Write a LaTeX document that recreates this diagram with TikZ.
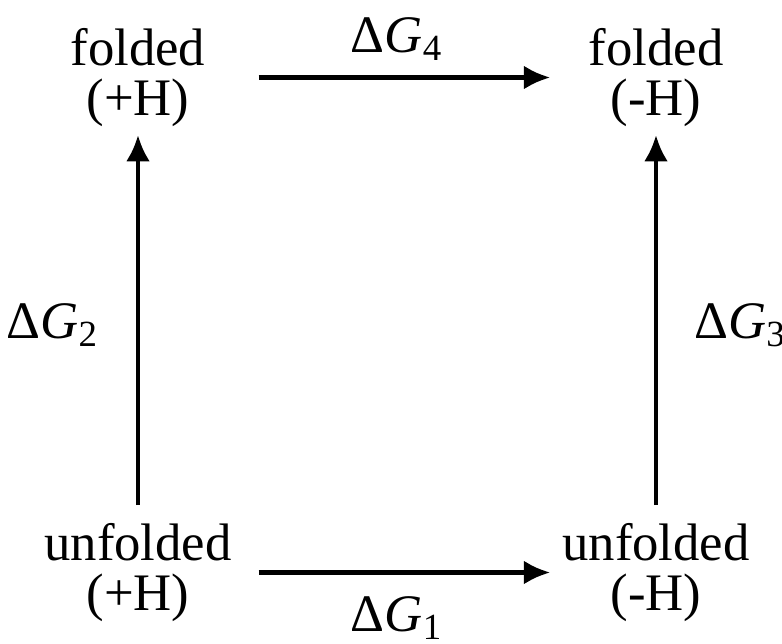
\documentclass[tikz,border=0pt]{standalone}
\usepackage{fontspec}
\setmainfont{Liberation Serif}
\usetikzlibrary{arrows.meta,positioning}

\begin{document}
\begin{tikzpicture}[
  >=Latex,
  state/.style={align=center, inner sep=0pt, minimum width=1.9cm, font=\fontsize{15}{14}\selectfont},
  dglabel/.style={inner sep=0pt, font=\fontsize{15}{14}\selectfont},
  flow/.style={-{Latex[length=7.5pt,width=6.8pt]}, line width=1.3pt, black}
]
\useasboundingbox (0,0) rectangle (7.82,6.43);

\node[state] (foldp) at (1.38,5.655) {folded\\(+H)};
\node[state] (foldm) at (6.56,5.655) {folded\\(-H)};
\node[state] (unfoldp) at (1.38,0.705) {unfolded\\(+H)};
\node[state] (unfoldm) at (6.56,0.705) {unfolded\\(-H)};

\draw[flow, shorten <=0.25cm, shorten >=0.10cm] (unfoldp.east) -- node[dglabel, below=0.22cm] {Δ\textit{G}\textsubscript{1}} (unfoldm.west);
\draw[flow, shorten <=0.18cm, shorten >=0.08cm] (unfoldp.north) -- node[dglabel, left=0.37cm] {Δ\textit{G}\textsubscript{2}} (foldp.south);
\draw[flow, shorten <=0.18cm, shorten >=0.08cm] (unfoldm.north) -- node[dglabel, right=0.36cm] {Δ\textit{G}\textsubscript{3}} (foldm.south);
\draw[flow, shorten <=0.25cm, shorten >=0.10cm] (foldp.east) -- node[dglabel, above=0.15cm] {Δ\textit{G}\textsubscript{4}} (foldm.west);

\end{tikzpicture}
\end{document}
